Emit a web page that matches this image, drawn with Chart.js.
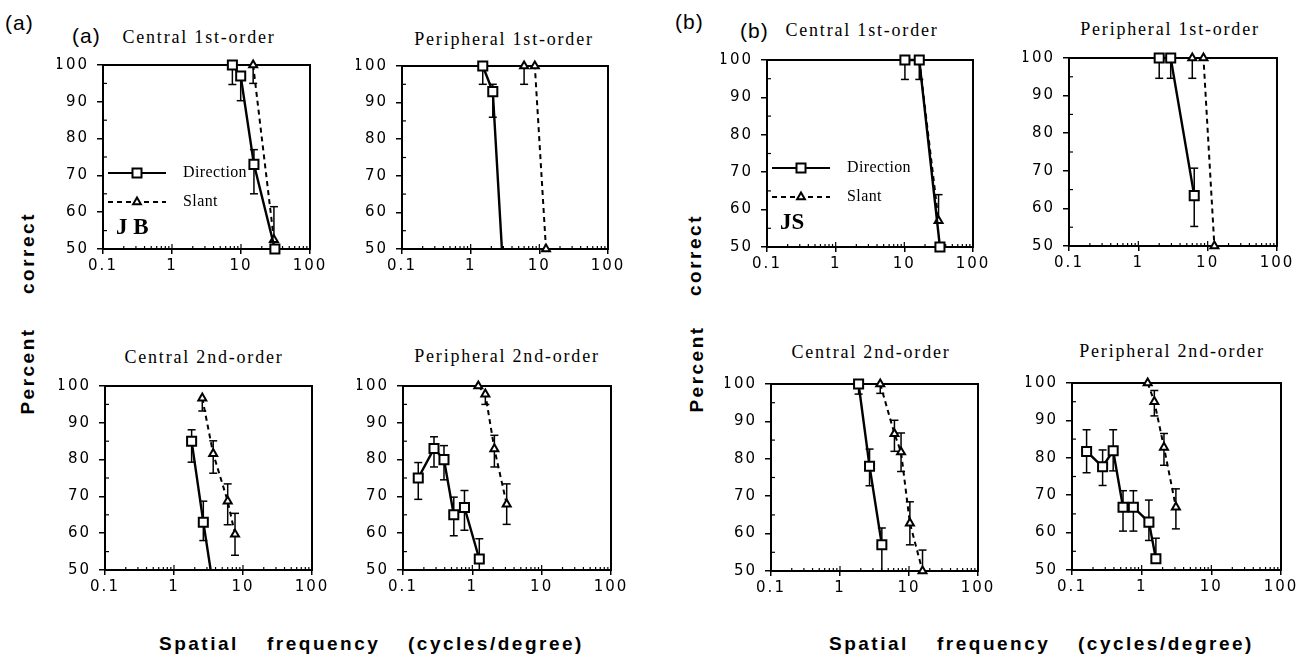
<!DOCTYPE html>
<html>
<head>
<meta charset="utf-8">
<script src="https://cdn.jsdelivr.net/npm/chart.js@4.4.1/dist/chart.umd.min.js"></script>
<style>
  body { margin: 0; background: #fff; }
  #fig { position: relative; width: 1307px; height: 659px; overflow: hidden; background: #fff; }
  #fig canvas { position: absolute; }
  .t { position: absolute; line-height: 1; white-space: nowrap; color: #000; }
  .serif { font-family: "Liberation Serif", serif; font-size: 18px; letter-spacing: 1.8px; }
  .tag { font-family: "Liberation Sans", sans-serif; font-size: 21px; letter-spacing: 1px; }
  .ax { font-family: "Liberation Sans", sans-serif; font-weight: bold; font-size: 19px; letter-spacing: 2.5px; }
</style>
</head>
<body>
<div id="fig"></div>
<script>
// axis ticks
const xTickVals = [0.1, 1, 10, 100];
const xTickLabels = ['0.1', '1', '10', '100'];
const xMinorMult = [2, 3, 4, 5, 6, 7, 8, 9];
const yTickVals = [50, 60, 70, 80, 90, 100];
const yTickLabels = ['50', '60', '70', '80', '90', '100'];
const yMinorVals = [55, 65, 75, 85, 95];

const titles = ['Central 1st-order', 'Peripheral 1st-order', 'Central 2nd-order', 'Peripheral 2nd-order'];
const seriesNames = ['Direction', 'Slant'];
const observers = ['J B', 'JS'];

// error bars are [below, above] in percent

// (a) JB, central 1st-order
const jbC1DirX = [7.5, 9.9, 15.4, 31];
const jbC1DirY = [100, 97, 73, 50];
const jbC1DirErr = [[5.3, 0], [6.7, 0], [8, 4], [0, 0]];
const jbC1SlaX = [15, 30];
const jbC1SlaY = [100, 52.5];
const jbC1SlaErr = [[5, 0], [0, 9]];

// (a) JB, peripheral 1st-order
const jbP1DirX = [1.5, 2.1, 2.85];
const jbP1DirY = [100, 93, 50];
const jbP1DirErr = [[5, 0], [7, 2], [0, 0]];
const jbP1SlaX = [6, 8.6, 12.5];
const jbP1SlaY = [100, 100, 50];
const jbP1SlaErr = [[5, 0], [0, 0], [0, 0]];

// (a) JB, central 2nd-order
const jbC2DirX = [1.8, 2.66, 3.4];
const jbC2DirY = [85, 63, 50];
const jbC2DirErr = [[5.7, 3.1], [5, 5.7], [0, 0]];
const jbC2SlaX = [2.57, 3.7, 6.0, 7.66];
const jbC2SlaY = [96.7, 81.6, 68.7, 59.7];
const jbC2SlaErr = [[3.5, 0], [5.3, 3.5], [6.4, 4.7], [5.7, 5.7]];

// (a) JB, peripheral 2nd-order
const jbP2DirX = [0.166, 0.28, 0.39, 0.54, 0.77, 1.26];
const jbP2DirY = [75, 83, 80, 65, 67, 53];
const jbP2DirErr = [[5.8, 4.2], [5, 3.2], [5.5, 3.8], [5.7, 4.8], [6.2, 4.6], [3, 5.5]];
const jbP2SlaX = [1.22, 1.54, 2.08, 3.13];
const jbP2SlaY = [100, 97.8, 82.9, 67.9];
const jbP2SlaErr = [[0, 0], [2.8, 0], [4.9, 3.7], [5.5, 5.5]];

// (b) JS, central 1st-order
const jsC1DirX = [10.2, 16.5, 33];
const jsC1DirY = [100, 100, 50];
const jsC1DirErr = [[5.2, 0], [5.2, 0], [0, 0]];
const jsC1SlaX = [16.5, 31.5];
const jsC1SlaY = [100, 57];
const jsC1SlaErr = [[0, 0], [0, 7]];

// (b) JS, peripheral 1st-order
const jsP1DirX = [2.0, 2.93, 6.4];
const jsP1DirY = [100, 100, 63.4];
const jsP1DirErr = [[5.4, 0], [5.4, 0], [8.2, 7.3]];
const jsP1SlaX = [6.0, 8.7, 12.5];
const jsP1SlaY = [100, 100, 50];
const jsP1SlaErr = [[5.4, 0], [0, 0], [0, 0]];

// (b) JS, central 2nd-order
const jsC2DirX = [1.86, 2.68, 4.04];
const jsC2DirY = [100, 78, 57];
const jsC2DirErr = [[2.7, 0], [5.2, 4.6], [7, 4.5]];
const jsC2SlaX = [3.83, 6.15, 7.67, 10.3, 15.7];
const jsC2SlaY = [100, 86.7, 81.8, 62.8, 50];
const jsC2SlaErr = [[2.5, 0], [4.7, 3.6], [5.2, 5.1], [5.8, 5.7], [0, 5.6]];

// (b) JS, peripheral 2nd-order
const jsP2DirX = [0.162, 0.275, 0.39, 0.54, 0.76, 1.27, 1.6];
const jsP2DirY = [81.7, 77.6, 81.9, 66.8, 66.8, 62.8, 53];
const jsP2DirErr = [[5.7, 5.8], [5, 4.5], [5.4, 5.6], [6.4, 4.4], [6.4, 4.4], [4.9, 5.9], [0, 5.5]];
const jsP2SlaX = [1.22, 1.52, 2.09, 3.1];
const jsP2SlaY = [100, 95, 82.8, 66.8];
const jsP2SlaErr = [[0, 0], [3.8, 3], [4.8, 3.7], [5.8, 4.9]];

const fig = document.getElementById('fig');

// plot box = [left, top, right, bottom] in page pixels
const panels = [
  { box: [103, 60, 310, 249], title: 0, tx: 199, ty: 37, dir: [jbC1DirX, jbC1DirY, jbC1DirErr], sla: [jbC1SlaX, jbC1SlaY, jbC1SlaErr], legend: 0 },
  { box: [402, 61, 608, 249], title: 1, tx: 504, ty: 39, dir: [jbP1DirX, jbP1DirY, jbP1DirErr], sla: [jbP1SlaX, jbP1SlaY, jbP1SlaErr], dirHide: [2] },
  { box: [105, 381, 312, 570], title: 2, tx: 204, ty: 357, dir: [jbC2DirX, jbC2DirY, jbC2DirErr], sla: [jbC2SlaX, jbC2SlaY, jbC2SlaErr], dirHide: [2] },
  { box: [403, 381, 611, 570], title: 3, tx: 507, ty: 356, dir: [jbP2DirX, jbP2DirY, jbP2DirErr], sla: [jbP2SlaX, jbP2SlaY, jbP2SlaErr] },
  { box: [767, 55, 973, 247], title: 0, tx: 862, ty: 30, dir: [jsC1DirX, jsC1DirY, jsC1DirErr], sla: [jsC1SlaX, jsC1SlaY, jsC1SlaErr], slaHide: [0], legend: 1 },
  { box: [1069, 53, 1277, 246], title: 1, tx: 1170, ty: 29, dir: [jsP1DirX, jsP1DirY, jsP1DirErr], sla: [jsP1SlaX, jsP1SlaY, jsP1SlaErr] },
  { box: [771, 379, 978, 571], title: 2, tx: 871, ty: 352, dir: [jsC2DirX, jsC2DirY, jsC2DirErr], sla: [jsC2SlaX, jsC2SlaY, jsC2SlaErr] },
  { box: [1072, 378, 1281, 570], title: 3, tx: 1172, ty: 351, dir: [jsP2DirX, jsP2DirY, jsP2DirErr], sla: [jsP2SlaX, jsP2SlaY, jsP2SlaErr] },
];

function addText(s, x, y, cls, how) {
  const el = document.createElement('div');
  el.className = 't ' + cls;
  el.textContent = s;
  el.style.left = x + 'px';
  el.style.top = y + 'px';
  el.style.transform = how || 'translateY(-50%)';
  fig.appendChild(el);
  return el;
}

function line(ctx, x1, y1, x2, y2) {
  ctx.beginPath();
  ctx.moveTo(x1, y1);
  ctx.lineTo(x2, y2);
  ctx.stroke();
}

function square(ctx, x, y) {
  ctx.beginPath();
  ctx.rect(x - 4.5, y - 4.5, 9, 9);
  ctx.fillStyle = '#fff';
  ctx.fill();
  ctx.lineWidth = 2;
  ctx.stroke();
}

function triangle(ctx, x, y) {
  ctx.beginPath();
  ctx.moveTo(x, y - 4.5);
  ctx.lineTo(x + 3.9, y + 2.25);
  ctx.lineTo(x - 3.9, y + 2.25);
  ctx.closePath();
  ctx.fillStyle = '#fff';
  ctx.fill();
  ctx.lineWidth = 2;
  ctx.stroke();
}

// frame, minor ticks and error bars, under the markers
const framePlugin = {
  id: 'frame',
  beforeDraw(chart) {
    chart.ctx.letterSpacing = '2px';
  },
  beforeDatasetsDraw(chart) {
    const { ctx, chartArea: a } = chart;
    const sx = chart.scales.x, sy = chart.scales.y;
    ctx.save();
    ctx.letterSpacing = '0px';
    ctx.strokeStyle = '#000';
    ctx.lineWidth = 2;
    ctx.strokeRect(a.left, a.top, a.right - a.left, a.bottom - a.top);

    ctx.lineWidth = 1.2;
    xTickVals.slice(0, -1).forEach(d => {
      const p = sx.getPixelForValue(d);
      line(ctx, p, a.bottom, p, a.bottom - 5);
      xMinorMult.forEach(m => {
        const px = sx.getPixelForValue(d * m);
        line(ctx, px, a.bottom, px, a.bottom - 3);
      });
    });
    yMinorVals.forEach(v => {
      const py = sy.getPixelForValue(v);
      line(ctx, a.left, py, a.left + 4, py);
    });

    ctx.lineWidth = 1.5;
    chart.data.datasets.forEach((ds, di) => {
      const meta = chart.getDatasetMeta(di);
      meta.data.forEach((pt, i) => {
        const [dn, up] = ds.err[i];
        const v = ds.data[i].y;
        const px = pt.x;
        [[dn, -1], [up, 1]].forEach(([e, s]) => {
          if (e <= 0) return;
          const y0 = sy.getPixelForValue(v);
          const y1 = sy.getPixelForValue(v + s * e);
          line(ctx, px, y0, px, y1);
          line(ctx, px - 4, y1, px + 4, y1);
        });
      });
    });
    ctx.restore();
  }
};

function legendPlugin(tag) {
  return {
    id: 'seriesKey',
    afterDatasetsDraw(chart) {
      const { ctx, chartArea: a } = chart;
      const x0 = a.left + 5, x1 = a.left + 63, xm = a.left + 34;
      const y1 = a.top + 108, y2 = a.top + 137;
      ctx.save();
      ctx.letterSpacing = '0.4px';
      ctx.strokeStyle = '#000';
      ctx.lineWidth = 2.2;
      line(ctx, x0, y1, x1, y1);
      square(ctx, xm, y1);
      ctx.setLineDash([5, 4]);
      ctx.lineWidth = 2;
      line(ctx, x0, y2, x1, y2);
      ctx.setLineDash([]);
      triangle(ctx, xm, y2);
      ctx.fillStyle = '#000';
      ctx.font = '16px "Liberation Serif"';
      ctx.textBaseline = 'middle';
      ctx.textAlign = 'left';
      ctx.fillText(seriesNames[0], a.left + 80, y1);
      ctx.fillText(seriesNames[1], a.left + 80, y2);
      ctx.font = 'bold 23px "Liberation Serif"';
      ctx.letterSpacing = '0px';
      ctx.fillText(observers[tag], a.left + 13, a.top + 163);
      ctx.restore();
    }
  };
}

function series(label, arr, dashed, hide) {
  const [xs, ys, err] = arr;
  hide = hide || [];
  return {
    label,
    data: xs.map((x, i) => ({ x, y: ys[i] })),
    err,
    showLine: true,
    tension: 0,
    clip: false,
    borderColor: '#000',
    borderWidth: dashed ? 2 : 2.4,
    borderDash: dashed ? [5, 4] : [],
    pointStyle: dashed ? 'triangle' : 'rect',
    pointRadius: c => hide.includes(c.dataIndex) ? 0 : (dashed ? 4.6 : 6.4),
    pointBorderWidth: 2,
    pointBorderColor: '#000',
    pointBackgroundColor: '#fff',
    order: dashed ? 1 : 0,
  };
}

const tickFont = { family: '"DejaVu Sans"', size: 15 };
const PL = 50, PT = 12, PR = 22, PB = 34;

panels.forEach(p => {
  const [l, t, r, b] = p.box;
  const cv = document.createElement('canvas');
  cv.width = r - l + PL + PR;
  cv.height = b - t + PT + PB;
  cv.style.left = (l - PL) + 'px';
  cv.style.top = (t - PT) + 'px';
  fig.appendChild(cv);

  const plugins = [framePlugin];
  if (p.legend !== undefined) plugins.push(legendPlugin(p.legend));

  new Chart(cv, {
    type: 'scatter',
    data: {
      datasets: [
        series(seriesNames[0], p.dir, false, p.dirHide),
        series(seriesNames[1], p.sla, true, p.slaHide),
      ]
    },
    options: {
      responsive: false,
      animation: false,
      events: [],
      layout: { padding: { left: 4, right: PR, top: PT, bottom: 4 } },
      plugins: { legend: { display: false }, tooltip: { enabled: false } },
      scales: {
        x: {
          type: 'logarithmic',
          min: 0.1,
          max: 100,
          afterBuildTicks: s => { s.ticks = xTickVals.map(v => ({ value: v })); },
          afterFit: s => { s.height = 30; },
          ticks: {
            callback: v => xTickLabels[xTickVals.indexOf(v)],
            color: '#000', font: tickFont, padding: 3,
            maxRotation: 0, autoSkip: false,
          },
          grid: { drawOnChartArea: false, color: '#000', lineWidth: 1.5, tickLength: 5 },
          border: { display: true, color: '#000', width: 2 },
        },
        y: {
          min: 50,
          max: 100,
          afterBuildTicks: s => { s.ticks = yTickVals.map(v => ({ value: v })); },
          afterFit: s => { s.width = 46; },
          ticks: {
            callback: v => yTickLabels[yTickVals.indexOf(v)],
            color: '#000', font: tickFont, padding: 8,
          },
          grid: { drawOnChartArea: false, color: '#000', lineWidth: 1.5, tickLength: 6 },
          border: { display: true, color: '#000', width: 2 },
        }
      }
    },
    plugins
  });

  addText(titles[p.title], p.tx, p.ty, 'serif', 'translate(-50%, -50%)');
});

// panel tags
addText('(a)', 5, 22, 'tag');
addText('(a)', 72, 35, 'tag');
addText('(b)', 675, 21, 'tag');
addText('(b)', 740, 30, 'tag');

// y axis titles
const rot = 'translate(-50%, -50%) rotate(-90deg)';
addText('Percent', 27, 371, 'ax', rot);
addText('correct', 27, 253, 'ax', rot);
addText('Percent', 696, 369, 'ax', rot);
addText('correct', 694, 255, 'ax', rot);

// x axis titles
[['Spatial', 159], ['frequency', 267], ['(cycles/degree)', 408]].forEach(([s, x]) => {
  addText(s, x, 643, 'ax');
  addText(s, x + 670, 643, 'ax');
});
</script>
</body>
</html>
